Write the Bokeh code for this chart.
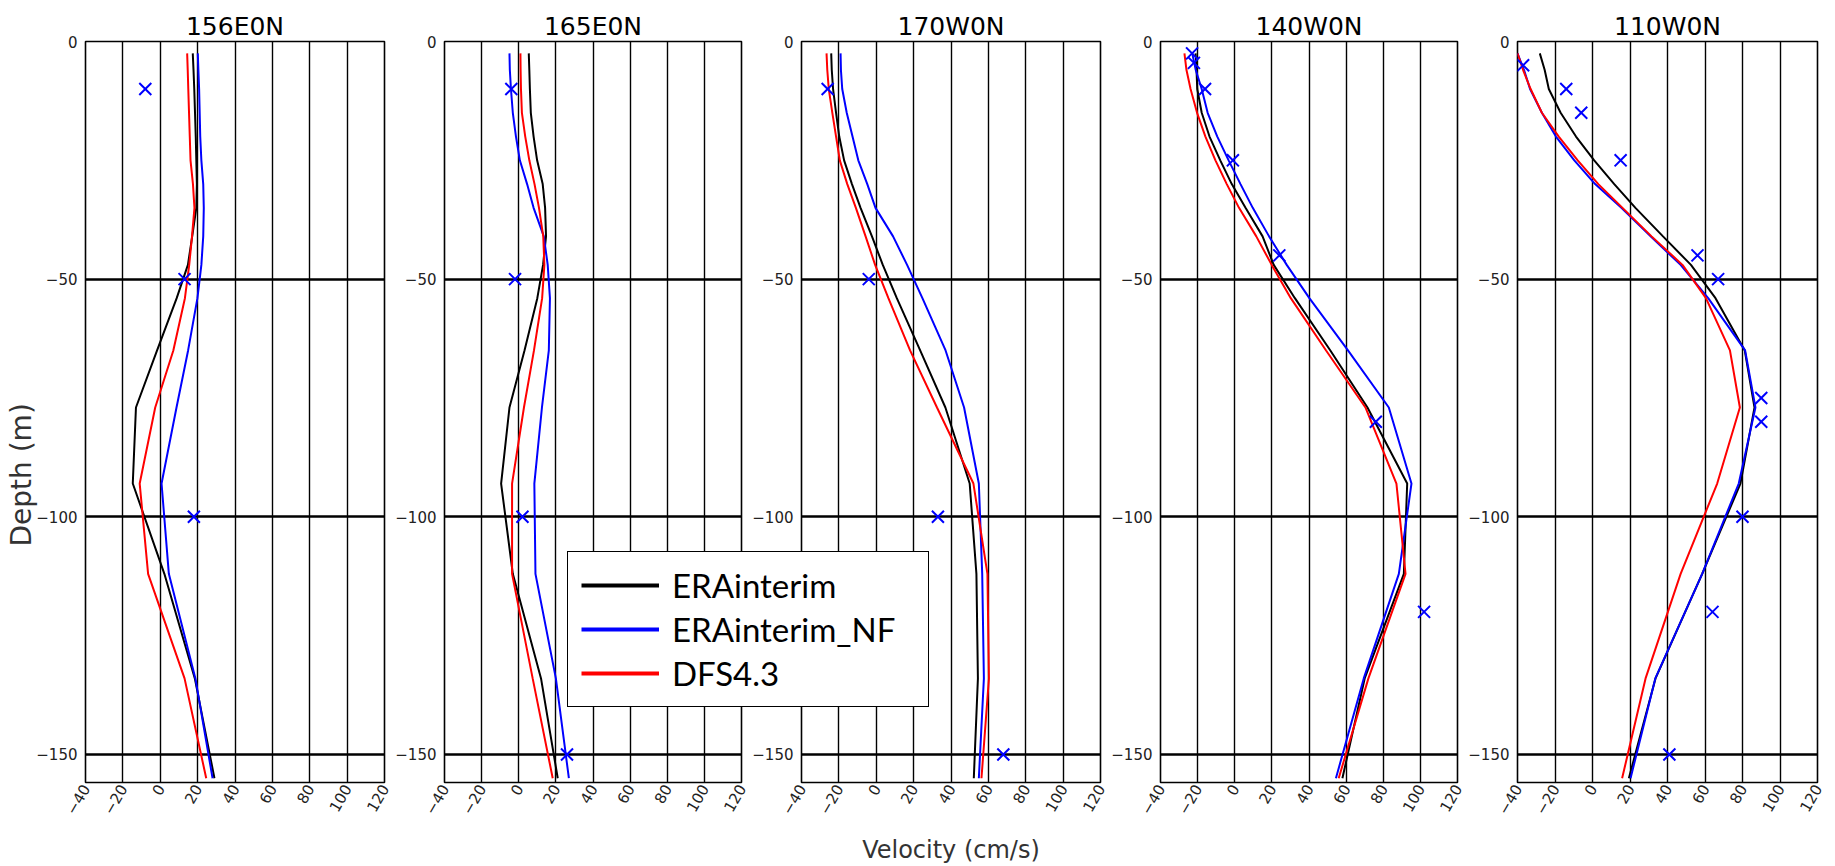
import math
from bokeh.plotting import figure
from bokeh.layouts import row
from bokeh.models import Range1d, FixedTicker, Legend, LegendItem, Title
from bokeh.embed import file_html
from bokeh.resources import INLINE

STATIONS = ["156E0N", "165E0N", "170W0N", "140W0N", "110W0N"]
SERIES = ["ERAinterim", "ERAinterim_NF", "DFS4.3"]
DEPTHS = [-2.5, -6, -10, -15, -20, -25, -30, -35, -41, -47, -54, -65, -77, -93, -112, -134, -155]
VEL_TICKS = [-40, -20, 0, 20, 40, 60, 80, 100, 120]
DEPTH_TICKS = [0, -50, -100, -150]

# 156E0N
ERA_156E = [17.4, 17.8, 18.2, 18.6, 19.0, 19.3, 19.6, 19.3, 17.1, 14.8, 8.8, -1.7, -13.0, -14.7, 2.2, 18.5, 29.0]
NF_156E = [20.1, 20.4, 20.8, 21.1, 21.4, 22.0, 23.0, 23.3, 23.0, 22.0, 19.9, 14.9, 8.7, 0.7, 4.6, 18.8, 28.0]
DFS_156E = [14.4, 14.7, 15.0, 15.4, 15.8, 16.2, 17.5, 18.3, 17.0, 15.5, 13.2, 7.0, -2.7, -11.0, -6.5, 13.0, 24.6]
OBS_V_156E = [-8, 13, 18]
OBS_Z_156E = [-10, -50, -100]

# 165E0N
ERA_165E = [5.4, 5.7, 6.0, 6.5, 8.0, 9.9, 12.9, 14.2, 14.7, 13.1, 10.0, 3.1, -5.0, -9.5, -3.2, 12.0, 21.0]
NF_165E = [-5.0, -4.8, -4.2, -3.2, -1.5, 0.6, 4.5, 8.0, 13.5, 15.6, 16.8, 16.2, 12.5, 8.4, 9.0, 20.0, 27.0]
DFS_165E = [0.9, 1.0, 1.2, 1.7, 3.5, 5.7, 8.5, 10.9, 13.2, 13.8, 12.6, 8.2, 2.8, -3.6, -3.6, 7.5, 18.3]
OBS_V_165E = [-4, -2, 2, 26]
OBS_Z_165E = [-10, -50, -100, -150]

# 170W0N
ERA_170W = [-24.1, -23.8, -23.1, -21.5, -19.8, -17.2, -13.0, -8.4, -2.3, 3.5, 11.0, 23.5, 37.0, 50.0, 53.6, 54.4, 52.2]
NF_170W = [-19.1, -18.9, -18.2, -15.8, -12.7, -9.6, -4.8, -0.4, 9.0, 16.5, 24.7, 37.1, 47.0, 54.9, 56.7, 57.6, 54.9]
DFS_170W = [-26.6, -26.2, -25.4, -23.5, -21.5, -19.5, -15.5, -10.9, -5.7, -0.6, 6.5, 18.1, 32.5, 52.0, 59.5, 60.3, 56.3]
OBS_V_170W = [-26, -4, 33, 68]
OBS_Z_170W = [-10, -50, -100, -150]

# 140W0N
ERA_140W = [-21.1, -20.6, -20.2, -17.8, -13.6, -7.8, -1.6, 5.8, 15.0, 21.0, 32.4, 51.5, 71.5, 92.9, 91.1, 70.0, 58.0]
NF_140W = [-22.9, -21.0, -17.8, -14.6, -9.4, -3.3, 3.1, 9.7, 18.5, 28.0, 40.2, 61.0, 83.0, 95.2, 88.4, 69.5, 54.5]
DFS_140W = [-27.1, -26.0, -23.8, -20.3, -15.8, -10.4, -4.3, 2.3, 11.6, 19.9, 30.2, 49.2, 70.4, 87.1, 92.0, 72.0, 56.0]
OBS_V_140W = [-23, -22, -16, -1, 24, 76, 102]
OBS_Z_140W = [-2.5, -4.5, -10, -25, -45, -80, -120]

# 110W0N
ERA_110W = [-28.1, -25.5, -23.3, -17.0, -8.8, 0.9, 11.6, 22.9, 37.6, 52.5, 65.6, 81.2, 86.4, 78.9, 58.5, 33.6, 19.4]
NF_110W = [-40.0, -36.5, -33.3, -27.0, -19.5, -9.7, 1.4, 15.4, 31.0, 47.0, 61.7, 81.4, 86.9, 78.0, 58.5, 33.5, 20.3]
DFS_110W = [-40.0, -37.0, -33.0, -27.0, -18.0, -7.9, 3.1, 16.0, 31.5, 48.0, 60.5, 73.3, 78.6, 66.5, 47.0, 28.3, 15.8]
OBS_V_110W = [-37, -14, -6, 15, 56, 67, 90, 90, 80, 64, 41]
OBS_Z_110W = [-5, -10, -15, -25, -45, -50, -75, -80, -100, -120, -150]

COLORS = ["#000000", "#0000ff", "#ff0000"]


def minus(v):
    return ("\u2212" + str(abs(v))) if v < 0 else str(v)


def make_panel(name, era, nf, dfs, obs_v, obs_z, frame_w, left, right, shift):
    p = figure(title=name, frame_width=frame_w, frame_height=741,
               x_range=Range1d(-40, 120), y_range=Range1d(-155.9, 0),
               output_backend="svg", toolbar_location=None, tools="",
               min_border_left=left, min_border_right=right,
               min_border_top=41, min_border_bottom=84)
    p.margin = (0, 0, 0, shift)
    p.border_fill_color = None
    p.title.text_font = "DejaVu Sans"
    p.title.text_font_size = "25px"
    p.title.text_font_style = "normal"
    p.title.text_color = "#000000"
    p.title.align = "center"
    p.title.standoff = 2

    p.outline_line_color = "black"
    p.outline_line_width = 1.6
    p.outline_line_alpha = 1.0

    p.xaxis.ticker = FixedTicker(ticks=VEL_TICKS)
    p.yaxis.ticker = FixedTicker(ticks=DEPTH_TICKS)
    p.xaxis.major_label_overrides = {t: minus(t) for t in VEL_TICKS}
    p.yaxis.major_label_overrides = {t: minus(t) for t in DEPTH_TICKS}
    p.xaxis.major_label_orientation = math.pi / 3
    for ax in (p.xaxis, p.yaxis):
        ax.axis_line_color = None
        ax.major_tick_in = 0
        ax.major_tick_out = 0
        ax.minor_tick_line_color = None
        ax.major_label_text_font = "DejaVu Sans"
        ax.major_label_text_color = "#222222"
    p.xaxis.major_label_text_font_size = "15px"
    p.yaxis.major_label_text_font_size = "15px"
    p.xaxis.major_label_standoff = 3
    p.yaxis.major_label_standoff = 8

    p.xgrid.ticker = FixedTicker(ticks=VEL_TICKS)
    p.ygrid.ticker = FixedTicker(ticks=DEPTH_TICKS)
    p.xgrid.grid_line_color = "black"
    p.xgrid.grid_line_width = 1.4
    p.xgrid.grid_line_alpha = 1.0
    p.ygrid.grid_line_color = "black"
    p.ygrid.grid_line_width = 2.4
    p.ygrid.grid_line_alpha = 1.0

    for vals, col in zip((era, nf, dfs), COLORS):
        p.line(vals, DEPTHS, line_color=col, line_width=2)
    p.scatter(obs_v, obs_z, marker="x", size=17, line_color="#0000ff", line_width=2)
    return p


# neighbouring canvases overlap a little (transparent borders) so frames sit as in the reference
p1 = make_panel(STATIONS[0], ERA_156E, NF_156E, DFS_156E, OBS_V_156E, OBS_Z_156E, 299, 85, 20, 0)
p2 = make_panel(STATIONS[1], ERA_165E, NF_165E, DFS_165E, OBS_V_165E, OBS_Z_165E, 297, 60, 20, -20)
p3 = make_panel(STATIONS[2], ERA_170W, NF_170W, DFS_170W, OBS_V_170W, OBS_Z_170W, 299, 60, 20, -20)
p4 = make_panel(STATIONS[3], ERA_140W, NF_140W, DFS_140W, OBS_V_140W, OBS_Z_140W, 297, 60, 20, -20)
p5 = make_panel(STATIONS[4], ERA_110W, NF_110W, DFS_110W, OBS_V_110W, OBS_Z_110W, 300, 60, 10, -20)

depth_title = Title(text="Depth (m)", align="left", offset=236, standoff=-8,
                    text_font="DejaVu Sans", text_font_size="28px",
                    text_font_style="normal", text_color="#333333")
p1.add_layout(depth_title, "left")

p3.xaxis.axis_label = "Velocity (cm/s)"
p3.xaxis.axis_label_text_font = "DejaVu Sans"
p3.xaxis.axis_label_text_font_size = "24px"
p3.xaxis.axis_label_text_font_style = "normal"
p3.xaxis.axis_label_text_color = "#333333"
p3.xaxis.axis_label_standoff = 14

# legend box drawn on top of panels 2 and 3 (its own small canvas, nothing else visible in it)
leg_fig = figure(frame_width=365, frame_height=158,
                 min_border_left=0, min_border_right=0, min_border_top=41, min_border_bottom=0,
                 x_range=Range1d(-40, 120), y_range=Range1d(0, 1),
                 x_axis_type=None, y_axis_type=None,
                 output_backend="svg", toolbar_location=None, tools="")
leg_fig.outline_line_color = None
leg_fig.background_fill_color = None
leg_fig.border_fill_color = None
leg_fig.grid.visible = False
leg_fig.margin = (510, 0, 0, -1262)

items = []
for lab, vals, col in zip(SERIES, (ERA_170W, NF_170W, DFS_170W), COLORS):
    # the series lie below this canvas' y range, so only their legend samples show
    r = leg_fig.line(vals, DEPTHS, line_color=col, line_width=4)
    items.append(LegendItem(label=lab, renderers=[r]))
leg = Legend(items=items, location=(2, 2))
leg.label_text_font = "Lato"
leg.label_text_font_size = "33px"
leg.label_text_color = "#000000"
leg.glyph_width = 78
leg.glyph_height = 40
leg.label_height = 40
leg.label_width = 243
leg.spacing = 4
leg.padding = 13
leg.label_standoff = 13
leg.margin = 0
leg.border_line_color = "black"
leg.border_line_width = 1.6
leg.border_line_alpha = 1.0
leg.background_fill_color = "white"
leg.background_fill_alpha = 1.0
leg_fig.add_layout(leg, "center")

layout = row(p1, p2, p3, p4, p5, leg_fig)

open("out.html", "w").write(file_html(layout, INLINE))
